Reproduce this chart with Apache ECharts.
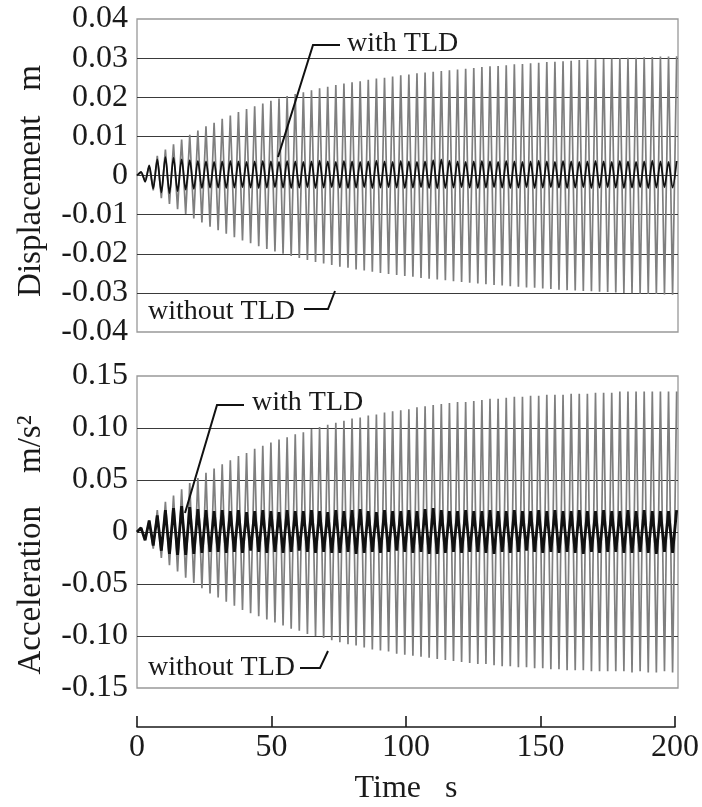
<!DOCTYPE html>
<html>
<head>
<meta charset="utf-8">
<script src="https://cdn.jsdelivr.net/npm/echarts@6/dist/echarts.min.js"></script>
<style>
html,body{margin:0;padding:0;background:#fff;}
#chart{width:702px;height:807px;}
</style>
</head>
<body>
<div id="chart"></div>
<script>
// Peak values, one per half-cycle (half period = 1.5 s)
const halfPeriod = 1.5;

const dispWithout = [
 0, 0.0008, -0.0014, 0.0024, -0.0038, 0.0050, -0.0058, 0.0066, -0.0073, 0.0080,
 -0.0086, 0.0092, -0.0098, 0.0104, -0.0110, 0.0115, -0.0120, 0.0126, -0.0131, 0.0135,
 -0.0140, 0.0145, -0.0149, 0.0153, -0.0158, 0.0162, -0.0166, 0.0170, -0.0173, 0.0177,
 -0.0181, 0.0184, -0.0188, 0.0191, -0.0194, 0.0197, -0.0200, 0.0203, -0.0206, 0.0208,
 -0.0211, 0.0213, -0.0216, 0.0218, -0.0221, 0.0223, -0.0225, 0.0227, -0.0229, 0.0231,
 -0.0233, 0.0235, -0.0236, 0.0238, -0.0240, 0.0241, -0.0243, 0.0245, -0.0246, 0.0248,
 -0.0249, 0.0250, -0.0252, 0.0253, -0.0254, 0.0256, -0.0257, 0.0258, -0.0259, 0.0261,
 -0.0262, 0.0263, -0.0264, 0.0265, -0.0266, 0.0267, -0.0268, 0.0269, -0.0270, 0.0271,
 -0.0272, 0.0273, -0.0274, 0.0275, -0.0276, 0.0277, -0.0278, 0.0279, -0.0280, 0.0280,
 -0.0281, 0.0282, -0.0283, 0.0284, -0.0284, 0.0285, -0.0286, 0.0287, -0.0287, 0.0288,
 -0.0289, 0.0290, -0.0290, 0.0291, -0.0292, 0.0292, -0.0293, 0.0293, -0.0294, 0.0295,
 -0.0295, 0.0296, -0.0296, 0.0297, -0.0297, 0.0298, -0.0298, 0.0299, -0.0299, 0.0300,
 -0.0300, 0.0301, -0.0301, 0.0301, -0.0302, 0.0302, -0.0303, 0.0303, -0.0303, 0.0304,
 -0.0304, 0.0304, -0.0305, 0.0305
];

const dispWith = [
 0, 0.0009, -0.0016, 0.0026, -0.0033, 0.0041, -0.0043, 0.0047, -0.0045, 0.0045,
 -0.0040, 0.0041, -0.0036, 0.0039, -0.0034, 0.0037, -0.0032, 0.0036, -0.0031, 0.0035,
 -0.0031, 0.0036, -0.0032, 0.0037, -0.0031, 0.0036, -0.0030, 0.0035, -0.0031, 0.0036,
 -0.0032, 0.0037, -0.0031, 0.0036, -0.0030, 0.0035, -0.0031, 0.0037, -0.0032, 0.0036,
 -0.0031, 0.0035, -0.0030, 0.0036, -0.0032, 0.0038, -0.0031, 0.0036, -0.0030, 0.0035,
 -0.0031, 0.0037, -0.0032, 0.0036, -0.0031, 0.0035, -0.0030, 0.0036, -0.0032, 0.0038,
 -0.0031, 0.0036, -0.0030, 0.0035, -0.0031, 0.0037, -0.0032, 0.0036, -0.0031, 0.0035,
 -0.0030, 0.0036, -0.0032, 0.0039, -0.0033, 0.0041, -0.0032, 0.0038, -0.0031, 0.0036,
 -0.0030, 0.0035, -0.0031, 0.0036, -0.0032, 0.0037, -0.0031, 0.0036, -0.0030, 0.0035,
 -0.0031, 0.0037, -0.0032, 0.0036, -0.0031, 0.0035, -0.0030, 0.0036, -0.0032, 0.0038,
 -0.0031, 0.0036, -0.0030, 0.0035, -0.0031, 0.0037, -0.0032, 0.0036, -0.0031, 0.0035,
 -0.0030, 0.0036, -0.0032, 0.0037, -0.0031, 0.0036, -0.0030, 0.0035, -0.0031, 0.0037,
 -0.0032, 0.0036, -0.0031, 0.0035, -0.0030, 0.0036, -0.0032, 0.0038, -0.0031, 0.0036,
 -0.0030, 0.0035, -0.0031, 0.0037
];

const accWithout = [
 0, 0.004, -0.007, 0.011, -0.016, 0.021, -0.025, 0.029, -0.032, 0.035,
 -0.038, 0.041, -0.044, 0.047, -0.049, 0.052, -0.054, 0.057, -0.059, 0.061,
 -0.063, 0.065, -0.067, 0.069, -0.071, 0.073, -0.075, 0.076, -0.078, 0.080,
 -0.081, 0.083, -0.084, 0.086, -0.087, 0.089, -0.090, 0.091, -0.093, 0.094,
 -0.095, 0.096, -0.098, 0.099, -0.100, 0.101, -0.102, 0.103, -0.104, 0.105,
 -0.106, 0.107, -0.108, 0.109, -0.109, 0.110, -0.111, 0.112, -0.113, 0.113,
 -0.114, 0.115, -0.115, 0.116, -0.117, 0.117, -0.118, 0.118, -0.119, 0.120,
 -0.120, 0.121, -0.121, 0.122, -0.122, 0.123, -0.123, 0.124, -0.124, 0.125,
 -0.125, 0.125, -0.126, 0.126, -0.127, 0.127, -0.127, 0.128, -0.128, 0.128,
 -0.129, 0.129, -0.129, 0.130, -0.130, 0.130, -0.130, 0.131, -0.131, 0.131,
 -0.131, 0.132, -0.132, 0.132, -0.132, 0.132, -0.133, 0.133, -0.133, 0.133,
 -0.133, 0.133, -0.134, 0.134, -0.134, 0.134, -0.134, 0.134, -0.134, 0.135,
 -0.134, 0.135, -0.135, 0.135, -0.134, 0.135, -0.135, 0.135, -0.135, 0.135,
 -0.134, 0.135, -0.135, 0.135
];

const accWith = [
 0, 0.004, -0.008, 0.011, -0.013, 0.016, -0.018, 0.021, -0.021, 0.023,
 -0.022, 0.025, -0.022, 0.024, -0.021, 0.022, -0.020, 0.021, -0.019, 0.020,
 -0.019, 0.021, -0.020, 0.020, -0.019, 0.021, -0.020, 0.019, -0.018, 0.020,
 -0.019, 0.021, -0.020, 0.020, -0.019, 0.019, -0.020, 0.021, -0.019, 0.020,
 -0.018, 0.020, -0.019, 0.021, -0.020, 0.020, -0.019, 0.019, -0.020, 0.021,
 -0.020, 0.020, -0.019, 0.021, -0.021, 0.022, -0.020, 0.020, -0.019, 0.019,
 -0.020, 0.021, -0.019, 0.020, -0.018, 0.020, -0.019, 0.021, -0.020, 0.020,
 -0.019, 0.022, -0.021, 0.023, -0.021, 0.021, -0.020, 0.020, -0.019, 0.020,
 -0.020, 0.021, -0.019, 0.020, -0.019, 0.020, -0.020, 0.021, -0.021, 0.020,
 -0.019, 0.020, -0.020, 0.021, -0.019, 0.020, -0.018, 0.020, -0.019, 0.021,
 -0.020, 0.020, -0.019, 0.021, -0.020, 0.020, -0.019, 0.020, -0.020, 0.021,
 -0.021, 0.020, -0.019, 0.020, -0.020, 0.021, -0.019, 0.020, -0.019, 0.020,
 -0.020, 0.021, -0.020, 0.020, -0.019, 0.021, -0.020, 0.020, -0.021, 0.020,
 -0.019, 0.020, -0.020, 0.021
];

const dispTickLabels = ['-0.04','-0.03','-0.02','-0.01','0','0.01','0.02','0.03','0.04'];
const accTickLabels = ['-0.15','-0.10','-0.05','0','0.05','0.10','0.15'];
const timeTickLabels = ['0','50','100','150','200'];

const FONT = '"Liberation Serif", "Times New Roman", serif';

function toPairs(arr) { return arr.map((v, i) => [i * halfPeriod, v]); }

const chart = echarts.init(document.getElementById('chart'), null, {renderer: 'canvas'});

const commonGrid = {left: 137, width: 541, show: true, borderColor: '#999', borderWidth: 1.3, backgroundColor: 'transparent'};

function yAxisDef(gi, min, max, interval, labels) {
  return {
    type: 'value', gridIndex: gi, min: min, max: max, interval: interval,
    axisLine: {show: false}, axisTick: {show: false},
    splitLine: {show: true, showMinLine: false, showMaxLine: false, lineStyle: {color: '#3a3a3a', width: 1.2}},
    axisLabel: {
      fontFamily: FONT, fontSize: 32, color: '#1a1a1a', margin: 9,
      formatter: function (v) { return labels[Math.round((v - min) / interval)]; }
    }
  };
}

const option = {
  animation: false,
  backgroundColor: '#fff',
  grid: [
    Object.assign({top: 19, height: 313}, commonGrid),
    Object.assign({top: 376, height: 312}, commonGrid),
    {left: 137, width: 541, top: 716, height: 11, show: false}
  ],
  xAxis: [
    {type: 'value', gridIndex: 0, min: 0, max: 200, interval: 50, show: false},
    {type: 'value', gridIndex: 1, min: 0, max: 200, interval: 50, show: false},
    {
      type: 'value', gridIndex: 2, min: 0, max: 200, interval: 50, position: 'bottom',
      axisLine: {show: true, lineStyle: {color: '#1a1a1a', width: 1.6}},
      axisTick: {show: true, inside: true, length: 11, lineStyle: {color: '#1a1a1a', width: 1.6}},
      splitLine: {show: false},
      axisLabel: {fontFamily: FONT, fontSize: 32, color: '#1a1a1a', margin: 5,
        formatter: function (v) { return timeTickLabels[Math.round(v / 50)]; }},
      name: 'Time   s', nameLocation: 'middle', nameGap: 46,
      nameTextStyle: {fontFamily: FONT, fontSize: 32, color: '#1a1a1a'}
    }
  ],
  yAxis: [
    yAxisDef(0, -0.04, 0.04, 0.01, dispTickLabels),
    yAxisDef(1, -0.15, 0.15, 0.05, accTickLabels),
    {type: 'value', gridIndex: 2, show: false, min: 0, max: 1}
  ],
  series: [
    {name: 'without TLD', type: 'line', xAxisIndex: 0, yAxisIndex: 0, data: toPairs(dispWithout),
     showSymbol: false, symbol: 'none', lineStyle: {color: '#7f7f7f', width: 1.7}, z: 2},
    {name: 'with TLD', type: 'line', xAxisIndex: 0, yAxisIndex: 0, data: toPairs(dispWith),
     showSymbol: false, symbol: 'none', smooth: 0.3, lineStyle: {color: '#111', width: 1.8}, z: 3},
    {name: 'without TLD', type: 'line', xAxisIndex: 1, yAxisIndex: 1, data: toPairs(accWithout),
     showSymbol: false, symbol: 'none', lineStyle: {color: '#7f7f7f', width: 1.7}, z: 2},
    {name: 'with TLD', type: 'line', xAxisIndex: 1, yAxisIndex: 1, data: toPairs(accWith),
     showSymbol: false, symbol: 'none', lineStyle: {color: '#111', width: 2.8}, z: 3}
  ],
  graphic: [
    {type: 'text', x: 31, y: 181, rotation: Math.PI / 2,
     style: {text: 'Displacement   m', font: '33px ' + FONT, fill: '#1a1a1a', textAlign: 'center', textVerticalAlign: 'middle'}},
    {type: 'text', x: 31, y: 545, rotation: Math.PI / 2,
     style: {text: 'Acceleration    m/s²', font: '33px ' + FONT, fill: '#1a1a1a', textAlign: 'center', textVerticalAlign: 'middle'}},
    // top panel annotations
    {type: 'polyline', shape: {points: [[340, 45], [313, 45], [278, 157]]}, style: {stroke: '#111', lineWidth: 2, fill: null}, z: 10},
    {type: 'text', x: 347, y: 44, style: {text: 'with TLD', font: '28px ' + FONT, fill: '#1a1a1a', textAlign: 'left', textVerticalAlign: 'middle'}, z: 10},
    {type: 'polyline', shape: {points: [[304, 309], [328, 309], [335, 291]]}, style: {stroke: '#111', lineWidth: 2, fill: null}, z: 10},
    {type: 'text', x: 148, y: 312, style: {text: 'without TLD', font: '28px ' + FONT, fill: '#1a1a1a', textAlign: 'left', textVerticalAlign: 'middle'}, z: 10},
    // bottom panel annotations
    {type: 'polyline', shape: {points: [[244, 405], [217, 405], [185, 513]]}, style: {stroke: '#111', lineWidth: 2, fill: null}, z: 10},
    {type: 'text', x: 252, y: 403, style: {text: 'with TLD', font: '28px ' + FONT, fill: '#1a1a1a', textAlign: 'left', textVerticalAlign: 'middle'}, z: 10},
    {type: 'polyline', shape: {points: [[300, 668], [320, 668], [328, 651]]}, style: {stroke: '#111', lineWidth: 2, fill: null}, z: 10},
    {type: 'text', x: 148, y: 668, style: {text: 'without TLD', font: '28px ' + FONT, fill: '#1a1a1a', textAlign: 'left', textVerticalAlign: 'middle'}, z: 10}
  ]
};

chart.setOption(option);
</script>
</body>
</html>
